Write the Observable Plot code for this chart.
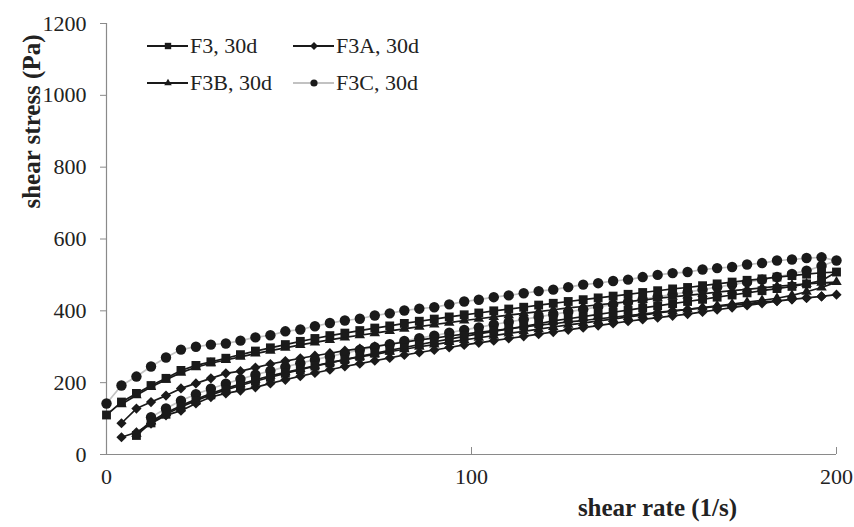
<!DOCTYPE html>
<html>
<head>
<meta charset="utf-8">
<script src="https://cdn.jsdelivr.net/npm/d3@7"></script>
<script src="https://cdn.jsdelivr.net/npm/@observablehq/plot@0.6"></script>
<style>
  html, body { margin: 0; padding: 0; background: #fff; }
  #wrap { position: relative; width: 854px; height: 527px; font-family: "Liberation Serif", "Times New Roman", Times, serif; }
  #chart svg, #chart svg text { font-family: "Liberation Serif", "Times New Roman", Times, serif !important; }
  #legend { position: absolute; left: 146px; top: 33px; font-size: 22px; color: #222; }
  .item { position: absolute; white-space: nowrap; display: flex; align-items: center; }
  .item svg { margin-right: 1px; }
</style>
</head>
<body>
<div id="wrap"><div id="chart"></div><div id="legend"></div></div>
<script>
// Shear rate grid (1/s) of the rheometer ramp
const shearRate = [0,4.1,8.2,12.2,16.3,20.4,24.5,28.6,32.7,36.7,40.8,44.9,49.0,53.1,57.1,61.2,65.3,69.4,73.5,77.6,81.6,85.7,89.8,93.9,98.0,102.0,106.1,110.2,114.3,118.4,122.4,126.5,130.6,134.7,138.8,142.9,146.9,151.0,155.1,159.2,163.3,167.3,171.4,175.5,179.6,183.7,187.8,191.8,195.9,200];

// Upward curves (index 0 = first shear rate the series starts at)
const f3Up   = [110,146,170,192,212,234,248,258,268,278, 288,297,306,315,323,331,338,345,352,358, 365,371,377,383,389,394,400,405,410,416, 421,426,431,436,441,446,451,456,461,465, 470,475,480,485,489,494,498,502,506,508];
const f3aUp  = [87,128,146,164,184,198,212,226,232, 242,252,260,268,275,282,289,295,301,307, 313,319,324,330,335,340,345,350,355,360, 364,369,373,378,382,387,391,396,400,404, 408,412,416,420,424,428,432,436,440,445];
const f3bUp  = [140,165,188,208,228,243,254,263,272, 281,289,297,305,312,319,326,332,338,344, 350,356,362,367,373,378,383,388,393,398, 403,408,412,417,421,426,430,435,439,443, 447,452,456,460,464,468,472,475,478,480];
const f3cUp  = [142,192,217,245,270,292,300,306,309,317, 326,332,343,348,357,366,373,378,387,393, 401,406,410,418,426,431,438,443,449,455, 459,466,473,477,483,487,494,500,505,508, 515,519,522,529,533,540,543,547,549,540];
const upStart = {F3: 0, F3A: 1, F3B: 1, F3C: 0};

// Downward curves, listed from the lowest shear rate reached up to 195.9
const f3Down  = [53,88,112,132,150,166,180,192, 204,215,226,236,246,255,264,273,282,290, 298,306,314,321,329,336,343,350,357,364, 372,378,384,390,396,402,408,414,420,426, 432,438,444,450,456,462,468,475,484];
const f3aDown = [48,62,86,109,122,142,160,170,178, 187,198,208,218,227,236,245,253,261,269, 277,284,291,298,305,311,317,323,329,335, 341,347,353,359,365,371,376,381,386,391, 397,403,409,415,421,427,432,436,440];
const f3bDown = [58,92,116,136,154,170,184,196, 208,219,229,238,247,256,264,272,279,286, 293,300,306,313,319,325,331,337,343,349, 355,361,366,372,377,383,388,394,399,404, 409,414,419,424,429,435,443,453,465];
const f3cDown = [104,128,150,168,183,197,210, 222,233,244,254,264,273,282,291,299,307, 316,324,331,339,347,354,362,369,376,383, 390,397,404,411,418,425,432,439,446,452, 459,466,473,480,487,494,503,512,525];
const downStart = {F3: 2, F3A: 1, F3B: 2, F3C: 3};

const seriesNames = ["F3", "F3A", "F3B", "F3C"];
const legendLabels = ["F3, 30d", "F3A, 30d", "F3B, 30d", "F3C, 30d"];
const yTicks = [0, 200, 400, 600, 800, 1000, 1200];
const xTicks = [0, 100, 200];

const ups = {F3: f3Up, F3A: f3aUp, F3B: f3bUp, F3C: f3cUp};
const downs = {F3: f3Down, F3A: f3aDown, F3B: f3bDown, F3C: f3cDown};
const style = {
  F3:  {symbol: "square",    r: 5.0, line: "#1a1a1a"},
  F3A: {symbol: "diamond2",  r: 4.6, line: "#1a1a1a"},
  F3B: {symbol: "triangle2", r: 5.0, line: "#1a1a1a"},
  F3C: {symbol: "circle",    r: 5.2, line: "#c2c2c2"}
};

const rows = [];
for (const s of seriesNames) {
  const up = ups[s], dn = downs[s];
  up.forEach((v, i) => rows.push({s, x: shearRate[upStart[s] + i], y: v}));
  for (let i = dn.length - 1; i >= 0; i--) rows.push({s, x: shearRate[downStart[s] + i], y: dn[i]});
}

const marks = [];
for (const s of ["F3C", "F3B", "F3A", "F3"]) {
  const d = rows.filter(r => r.s === s);
  marks.push(Plot.line(d, {x: "x", y: "y", stroke: style[s].line, strokeWidth: 1.7}));
}
for (const s of ["F3C", "F3B", "F3A", "F3"]) {
  const d = rows.filter(r => r.s === s);
  marks.push(Plot.dot(d, {x: "x", y: "y", symbol: () => style[s].symbol, r: style[s].r, fill: "#1a1a1a", stroke: "none"}));
}

const chart = Plot.plot({
  width: 854,
  height: 527,
  marginLeft: 106,
  marginRight: 18,
  marginTop: 23,
  marginBottom: 73,
  style: {fontFamily: '"Liberation Serif", "Times New Roman", serif', fontSize: "22px", color: "#222", background: "#fff"},
  x: {domain: [0, 200]},
  y: {domain: [0, 1200]},
  symbol: {type: "identity"},
  marks: [
    Plot.ruleY([0], {stroke: "#8a8a8a", strokeWidth: 1.2}),
    Plot.ruleX([0], {stroke: "#8a8a8a", strokeWidth: 1.2}),
    Plot.axisY({ticks: yTicks, tickSize: 6, text: null, stroke: "#8a8a8a", label: null}),
    Plot.axisX({ticks: xTicks, tickSize: 7, dy: -7, text: null, stroke: "#8a8a8a", label: null}),
    Plot.text(yTicks, {y: d => d, text: d => String(d), frameAnchor: "left", dx: -20, textAnchor: "end", fontSize: 22, fill: "#222"}),
    Plot.text(xTicks, {x: d => d, text: d => String(d), frameAnchor: "bottom", dy: 29, textAnchor: "middle", fontSize: 22, fill: "#222"}),
    ...marks,
    Plot.text(["shear stress (Pa)"], {frameAnchor: "top-left", rotate: -90, dx: -84, dy: 98, fontSize: 25, fontWeight: "bold", textAnchor: "middle", fill: "#222"}),
    Plot.text(["shear rate (1/s)"], {frameAnchor: "bottom", dx: 186, dy: 61, fontSize: 25, fontWeight: "bold", textAnchor: "middle", fill: "#222"})
  ]
});
document.getElementById("chart").appendChild(chart);

// legend
const legend = document.getElementById("legend");
const pos = [[0, 0], [146, 0], [0, 37], [146, 37]];
seriesNames.forEach((s, i) => {
  const it = document.createElement("div");
  it.className = "item";
  it.style.left = pos[i][0] + "px";
  it.style.top = pos[i][1] + "px";
  const sw = d3.create("svg").attr("width", 43).attr("height", 26);
  sw.append("line").attr("x1", 1).attr("x2", 42).attr("y1", 13).attr("y2", 13)
    .attr("stroke", style[s].line).attr("stroke-width", 1.8);
  const sym = {square: d3.symbolSquare, diamond2: d3.symbolDiamond2, triangle2: d3.symbolTriangle2, circle: d3.symbolCircle}[style[s].symbol];
  sw.append("path").attr("transform", "translate(22,13)")
    .attr("d", d3.symbol(sym, Math.PI * 3.6 * 3.6)()).attr("fill", "#1a1a1a");
  it.appendChild(sw.node());
  const t = document.createElement("span");
  t.textContent = legendLabels[i];
  it.appendChild(t);
  legend.appendChild(it);
});
</script>
</body>
</html>
